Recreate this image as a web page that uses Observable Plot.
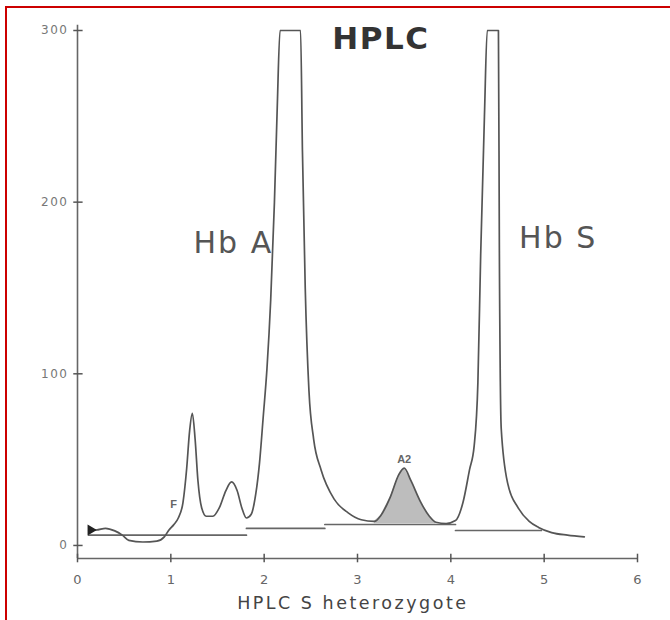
<!DOCTYPE html>
<html><head><meta charset="utf-8">
<script src="https://cdn.jsdelivr.net/npm/d3@7"></script>
<script src="https://cdn.jsdelivr.net/npm/@observablehq/plot@0.6"></script>
<style>
html,body{margin:0;padding:0;background:#fff;overflow:hidden}
#wrap{position:relative;width:670px;height:620px;overflow:hidden}
#frame{position:absolute;left:5px;top:6px;width:700px;height:700px;border-left:2px solid #cc0000;border-top:2px solid #cc0000;pointer-events:none}
#chart{position:absolute;left:0;top:0}
.peak text{letter-spacing:2px}
.ttl text{letter-spacing:1.5px}
.xlab text{letter-spacing:2.5px}
.ylab text{letter-spacing:1.5px}
</style></head><body>
<div id="wrap"><div id="chart"></div><div id="frame"></div></div>
<script>
// Retention time (min) and detector signal
const time = [0.12,0.2,0.3,0.4,0.48,0.55,0.7,0.85,0.93,0.98,1.03,1.08,1.13,1.17,1.2,1.23,1.26,1.29,1.33,1.38,1.45,1.52,1.59,1.65,1.71,1.76,1.81,1.86,1.91,1.95,1.99,2.03,2.07,2.11,2.14,2.17,2.39,2.41,2.44,2.48,2.53,2.61,2.75,2.9,3.04,3.18,3.25,3.35,3.44,3.5,3.57,3.67,3.77,3.84,3.95,4.05,4.13,4.2,4.25,4.29,4.32,4.36,4.39,4.51,4.52,4.54,4.61,4.72,4.84,4.94,5.08,5.25,5.43];
const signal = [9,9,10,8.5,6,3,2,2.5,5,9,12,16,25,45,66,77,62,38,22,17,17,22,32,37,32,22,16,18,30,48,75,103,143,200,255,300,300,230,150,90,62,44,27,19,15,14,17.5,28,41,45,38,26,17,13.5,12.8,14.5,25,44,58,95,170,250,300,300,172,68,36,22,14,10.5,7.5,6,5];
// Integration baseline segments
const baseStart = [0.12,1.81,2.65,4.05];
const baseEnd   = [1.81,2.65,4.05,4.97];
const baseLevel = [6,9.9,12.2,8.7];
// Hb A2 shaded window
const a2Range = [3.18,3.84];
const a2Base = 12.6;
// Axis ticks
const xTicks = [0,1,2,3,4,5,6];
const yTicks = [0,100,200,300];
// Labels
const title = "HPLC";
const xLabel = "HPLC S heterozygote";
const peakNames = ["Hb A","Hb S"];
const peakNameT = [1.67,5.15];
const peakNameV = [176,179];
const smallNames = ["A2","F"];
const smallNameT = [3.5,1.03];
const smallNameV = [50,24];

const yMin = -7.6;
const curve = time.map((t,i)=>({t, v: signal[i]}));
const a2 = curve.filter(d=>d.t>=a2Range[0] && d.t<=a2Range[1]);
const base = baseStart.flatMap((s,i)=>[{t:s,v:baseLevel[i],k:i},{t:baseEnd[i],v:baseLevel[i],k:i}]);
const font = "Liberation Sans, Arial, Helvetica, sans-serif";
const wide = "DejaVu Sans, Verdana, sans-serif";

const chart = Plot.plot({
  width: 670, height: 620,
  marginLeft: 77, marginRight: 33, marginTop: 30, marginBottom: 62,
  x: {domain: [0,6], axis: null},
  y: {domain: [yMin,300], axis: null},
  style: {fontFamily: font, background: "transparent", overflow: "visible"},
  marks: [
    Plot.areaY(a2, {x: "t", y1: a2Base, y2: "v", fill: "#bdbdbd"}),
    Plot.line(base, {x: "t", y: "v", z: "k", stroke: "#666", strokeWidth: 1.7}),
    Plot.line(curve, {x: "t", y: "v", stroke: "#555", strokeWidth: 1.7, curve: "monotone-x"}),
    Plot.dot([curve[0]], {x: "t", y: "v", symbol: "triangle", r: 4, rotate: 90, fill: "#222", stroke: "none", dx: 2}),
    // axes
    Plot.ruleX([0], {y1: yMin, y2: 303, stroke: "#666", strokeWidth: 1.6}),
    Plot.ruleY([yMin], {x1: 0, x2: 6, stroke: "#666", strokeWidth: 1.6}),
    Plot.ruleX(xTicks, {x: d=>d, y1: yMin-2.5, y2: yMin+2.5, stroke: "#555", strokeWidth: 1.5}),
    Plot.ruleY(yTicks, {y: d=>d, x1: -0.04, x2: 0.06, stroke: "#555", strokeWidth: 1.5}),
    Plot.text(xTicks, {x: d=>d, y: yMin, dy: 21, text: d=>String(d), fontSize: 13, fill: "#666", fontFamily: wide}),
    Plot.text(yTicks, {x: 0, y: d=>d, dx: -9, text: d=>String(d), textAnchor: "end", fontSize: 12, fill: "#777", fontFamily: wide, className: "ylab"}),
    Plot.text([xLabel], {x: 2.95, y: yMin, dy: 45, text: d=>d, fontSize: 17.5, fill: "#444", fontFamily: wide, className: "xlab"}),
    // annotations
    Plot.text([title], {x: 3.25, y: 295, text: d=>d, fontSize: 31, fontWeight: "bold", fill: "#333", fontFamily: wide, className: "ttl"}),
    Plot.text(peakNames, {x: (d,i)=>peakNameT[i], y: (d,i)=>peakNameV[i], text: d=>d, fontSize: 30, fill: "#555", fontFamily: wide, className: "peak"}),
    Plot.text(smallNames, {x: (d,i)=>smallNameT[i], y: (d,i)=>smallNameV[i], text: d=>d, fontSize: 11, fontWeight: "bold", fill: "#666"})
  ]
});
document.getElementById("chart").appendChild(chart);
</script>
</body></html>
